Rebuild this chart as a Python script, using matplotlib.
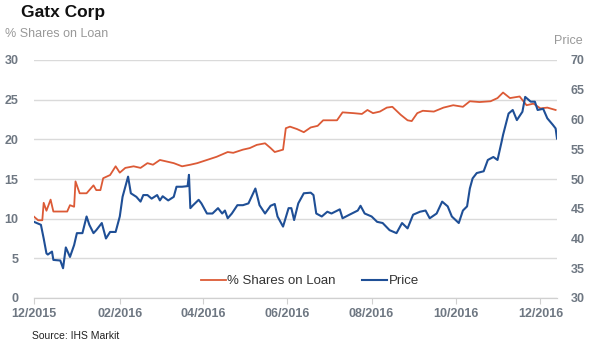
import numpy as np
import pandas as pd
import matplotlib
matplotlib.use("Agg")
import matplotlib.pyplot as plt
import matplotlib.dates as mdates

plt.rcParams['font.family'] = ['Liberation Sans', 'DejaVu Sans']

start = pd.Timestamp('2015-12-01')

# % shares on loan (left axis), days since 2015-12-01
loan_days = [0, 3, 6, 7, 9, 12, 14, 19, 24, 26, 29, 30, 33, 38, 43, 45, 48, 50, 55, 59,
             62, 66, 72, 77, 82, 86, 91, 96, 101, 107, 113, 118, 125, 132, 140, 144, 151, 156, 161, 167,
             171, 174, 180, 182, 185, 190, 195, 200, 205, 209, 214, 219, 223, 231, 237, 241, 245, 250, 255, 259,
             265, 270, 273, 277, 281, 289, 296, 303, 310, 315, 322, 330, 335, 339, 344, 351, 356, 361, 366, 371, 377]
loan_pct = [10.25, 9.8, 9.8, 12.0, 11.0, 12.4, 10.9, 10.9, 10.9, 11.7, 11.5, 14.7, 13.2, 13.2, 14.2, 13.6, 13.6, 15.1, 15.5, 16.6,
            15.8, 16.4, 16.6, 16.4, 17.0, 16.8, 17.4, 17.2, 17.0, 16.6, 16.8, 17.0, 17.4, 17.8, 18.4, 18.3, 18.7, 18.9, 19.3, 19.5,
            18.9, 18.4, 18.7, 21.4, 21.6, 21.3, 20.9, 21.5, 21.7, 22.4, 22.4, 22.4, 23.4, 23.3, 23.2, 23.7, 23.3, 23.5, 24.0, 24.1,
            23.1, 22.4, 22.3, 23.3, 23.6, 23.5, 24.0, 24.3, 24.1, 24.8, 24.7, 24.8, 25.2, 25.9, 25.2, 25.4, 24.3, 24.5, 23.9, 24.0, 23.7]

# share price (right axis)
price_days = [0, 2, 5, 7, 9, 10, 13, 14, 19, 21, 23, 26, 29, 31, 35, 38, 40, 43, 45, 49,
              52, 55, 59, 62, 64, 68, 70, 74, 77, 79, 82, 85, 89, 91, 93, 97, 101, 103, 107, 111,
              112, 113, 115, 119, 121, 125, 129, 133, 136, 138, 140, 143, 147, 151, 155, 160, 163, 167, 171, 174,
              176, 180, 184, 186, 188, 191, 195, 200, 202, 204, 208, 212, 215, 221, 223, 228, 234, 236, 239, 244,
              248, 252, 257, 262, 266, 270, 274, 279, 283, 286, 291, 295, 299, 302, 307, 310, 313, 315, 317, 320,
              325, 328, 332, 335, 338, 339, 343, 346, 349, 353, 355, 359, 362, 364, 368, 371, 375, 377, 378]
price = [42.8, 42.6, 42.3, 40.0, 37.5, 37.3, 37.8, 36.4, 36.3, 35.0, 38.5, 36.9, 38.9, 40.9, 40.9, 43.7, 42.3, 40.9, 41.4, 42.6,
         40.0, 41.1, 41.1, 43.7, 47.0, 50.4, 47.6, 47.0, 46.2, 47.3, 47.3, 46.7, 47.3, 46.4, 47.1, 46.4, 47.0, 48.7, 48.7, 48.8,
         50.7, 45.1, 45.6, 46.5, 45.9, 44.2, 44.2, 45.1, 44.2, 44.7, 43.4, 44.2, 45.6, 45.6, 45.9, 48.4, 45.6, 44.2, 45.5, 45.8,
         43.7, 42.0, 45.1, 45.1, 43.1, 45.9, 47.6, 47.7, 47.3, 44.2, 43.7, 44.5, 44.2, 44.9, 43.4, 44.0, 44.7, 45.5, 44.2, 43.7,
         42.8, 42.6, 41.4, 40.9, 42.6, 41.7, 44.0, 44.5, 44.7, 43.4, 44.2, 46.2, 45.4, 43.7, 42.6, 44.7, 45.4, 48.4, 50.1, 51.0,
         51.3, 53.2, 53.7, 53.2, 56.3, 57.4, 61.0, 61.6, 59.9, 61.3, 63.8, 63.0, 63.0, 61.6, 61.8, 60.2, 59.1, 58.5, 56.8]

loan_dates = start + pd.to_timedelta(loan_days, unit='D')
price_dates = start + pd.to_timedelta(price_days, unit='D')

red = '#dc5a36'
blue = '#1f4f96'
grey = '#6e7782'

fig = plt.figure(figsize=(5.9, 3.51), dpi=100)
ax = fig.add_axes([34/590, 1-298/351, (557-34)/590, (298-60)/351])
ax2 = ax.twinx()

l1, = ax.plot(loan_dates, loan_pct, color=red, lw=1.3, label='% Shares on Loan')
l2, = ax2.plot(price_dates, price, color=blue, lw=1.5, label='Price')

ax.set_ylim(0, 30)
ax.set_yticks(np.arange(0, 31, 5))
ax2.set_ylim(30, 70)
ax2.set_yticks(np.arange(30, 71, 5))
ax.set_xlim(start, start + pd.Timedelta(days=378))

ax.xaxis.set_major_locator(mdates.MonthLocator(bymonth=[2, 4, 6, 8, 10, 12]))
ax.xaxis.set_major_formatter(mdates.DateFormatter('%m/%Y'))

ax.grid(axis='y', color='#dadada', lw=1)
ax.set_axisbelow(True)
for a in (ax, ax2):
    for s in ('left', 'right', 'top'):
        a.spines[s].set_visible(False)
    a.spines['bottom'].set_color('#d0d0d0')
ax.tick_params(axis='y', length=0, pad=11, labelsize=9, labelcolor=grey)
ax2.tick_params(axis='y', length=0, pad=10, labelsize=9, labelcolor=grey)
ax.tick_params(axis='x', length=4, color='#d0d0d0', pad=3, labelsize=9, labelcolor=grey)
for t in ax.get_xticklabels() + ax.get_yticklabels() + ax2.get_yticklabels():
    t.set_fontweight('bold')

fig.text(21/590, 1-12/351, 'Gatx Corp', fontsize=12.5, fontweight='bold', color='#111111', va='center')
fig.text(5/590, 1-34/351, '% Shares on Loan', fontsize=9, color='#999999', va='center')
fig.text(583/590, 1-41/351, 'Price', fontsize=9, color='#999999', va='center', ha='right')
fig.text(32/590, 1-336/351, 'Source: IHS Markit', fontsize=7.5, color='#222222', va='center')

fig.legend([l1, l2], ['% Shares on Loan', 'Price'], loc='center', bbox_to_anchor=(310/590, 1-281/351),
           ncol=2, frameon=False, fontsize=9.5, handlelength=1.9, handletextpad=0.1, columnspacing=2.0,
           labelcolor='#333333')

fig.savefig('out.png', dpi=100)
